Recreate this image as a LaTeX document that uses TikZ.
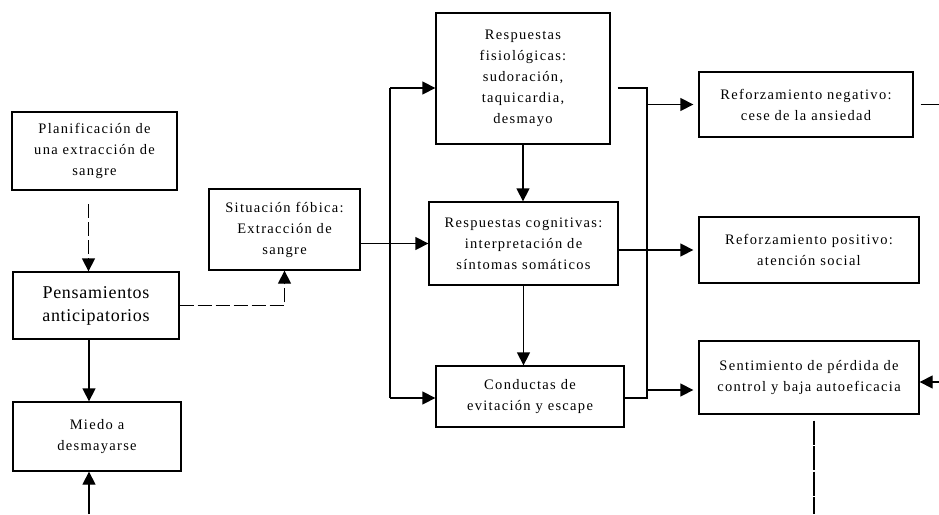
\documentclass[tikz,border=0pt]{standalone}
\usepackage{fontspec}
\setmainfont{Liberation Serif}
\newfontfamily\boxfont[LetterSpace=9]{Liberation Serif}
\newfontfamily\bigboxfont[LetterSpace=4]{Liberation Serif}
\usetikzlibrary{positioning,arrows.meta,calc}
\tikzset{
  box/.style={draw, line width=1.3pt, inner sep=0pt, align=center,
              font=\boxfont\fontsize{14.5}{21}\selectfont},
  thickbox/.style={box, line width=2.6pt},
  bigbox/.style={box, font=\bigboxfont\fontsize{18}{23}\selectfont},
  wire/.style={line width=1.3pt},
  arr/.style={wire, -{Triangle[length=13pt,width=13pt]}},
  gaparr/.style={arr, shorten >=5pt},
  dasharr/.style={arr, dash pattern=on 14pt off 4pt},
  dashwire/.style={wire, dash pattern=on 24pt off 1.5pt}
}
\begin{document}
\begin{tikzpicture}[x=1pt, y=-1pt]
  \useasboundingbox (0,0) rectangle (939,514);
  \node[thickbox, minimum width=165pt, minimum height=78pt] (plan) at (94.5,151)
    {Planificación de\\una extracción de\\sangre};
  \node[bigbox, minimum width=166pt, minimum height=67pt] (pens) at (96,305.5)
    {Pensamientos\\anticipatorios};
  \node[box, minimum width=168pt, minimum height=69pt] (miedo) at (97,436.5)
    {Miedo a\\desmayarse};
  \node[box, minimum width=151pt, minimum height=81pt] (sit) at (284.5,229.5)
    {Situación fóbica:\\Extracción de\\sangre};
  \node[box, minimum width=174pt, minimum height=131pt] (fisio) at (523,78.5)
    {Respuestas\\fisiológicas:\\sudoración,\\taquicardia,\\desmayo};
  \node[box, minimum width=189pt, minimum height=83pt] (cogn) at (523.5,243.5)
    {Respuestas cognitivas:\\interpretación de\\síntomas somáticos};
  \node[box, minimum width=188pt, minimum height=61pt] (cond) at (530,396.5)
    {Conductas de\\evitación y escape};
  \node[box, minimum width=214pt, minimum height=65pt] (neg) at (806,104.5)
    {Reforzamiento negativo:\\cese de la ansiedad};
  \node[box, minimum width=220pt, minimum height=66pt] (pos) at (809,250)
    {Reforzamiento positivo:\\atención social};
  \node[box, minimum width=220pt, minimum height=73pt] (sent) at (809,377.5)
    {Sentimiento de pérdida de\\control y baja autoeficacia};

  \coordinate (lt) at (390,88);
  \coordinate (lb) at (390,398);
  \coordinate (rt) at (647,88);
  \coordinate (rb) at (647,398);
  \coordinate (rs) at (647,390);
  \coordinate (bot1) at (89,514);
  \coordinate (bot2) at (814,514);
  \coordinate (edge1) at (939,104.5);
  \coordinate (edge2) at (939,382);

  \draw[dasharr, shorten <=13pt] ([xshift=-6pt]plan.south) -- ([xshift=-6pt]plan.south |- pens.north);
  \draw[dasharr] (pens.east) -| (sit.south);
  \draw[arr] ([xshift=-7pt]pens.south) -- ([xshift=-7pt]pens.south |- miedo.north);
  \draw[arr] (bot1) -- (bot1 |- miedo.south);

  \draw[arr] (sit.east |- cogn.west) -- (cogn.west);
  \draw[wire] (lt) -- (lb);
  \draw[arr] (lt) -- (lt -| fisio.west);
  \draw[arr] (lb) -- (lb -| cond.west);
  \draw[arr] (fisio.south) -- (fisio.south |- cogn.north);
  \draw[arr] (cogn.south) -- (cogn.south |- cond.north);

  \draw[wire, shorten <=7pt] (rt -| fisio.east) -- (rt) -- (rb) -- (rb -| cond.east);
  \draw[gaparr] (rt |- neg.west) -- (neg.west);
  \draw[gaparr] (cogn.east |- pos.west) -- (pos.west);
  \draw[gaparr] (rs) -- (rs -| sent.west);
  \draw[wire, shorten <=7pt] (neg.east) -- (edge1);
  \draw[arr] (edge2) -- (edge2 -| sent.east);
  \draw[dashwire, shorten <=6pt] (bot2 |- sent.south) -- (bot2);
\end{tikzpicture}
\end{document}
